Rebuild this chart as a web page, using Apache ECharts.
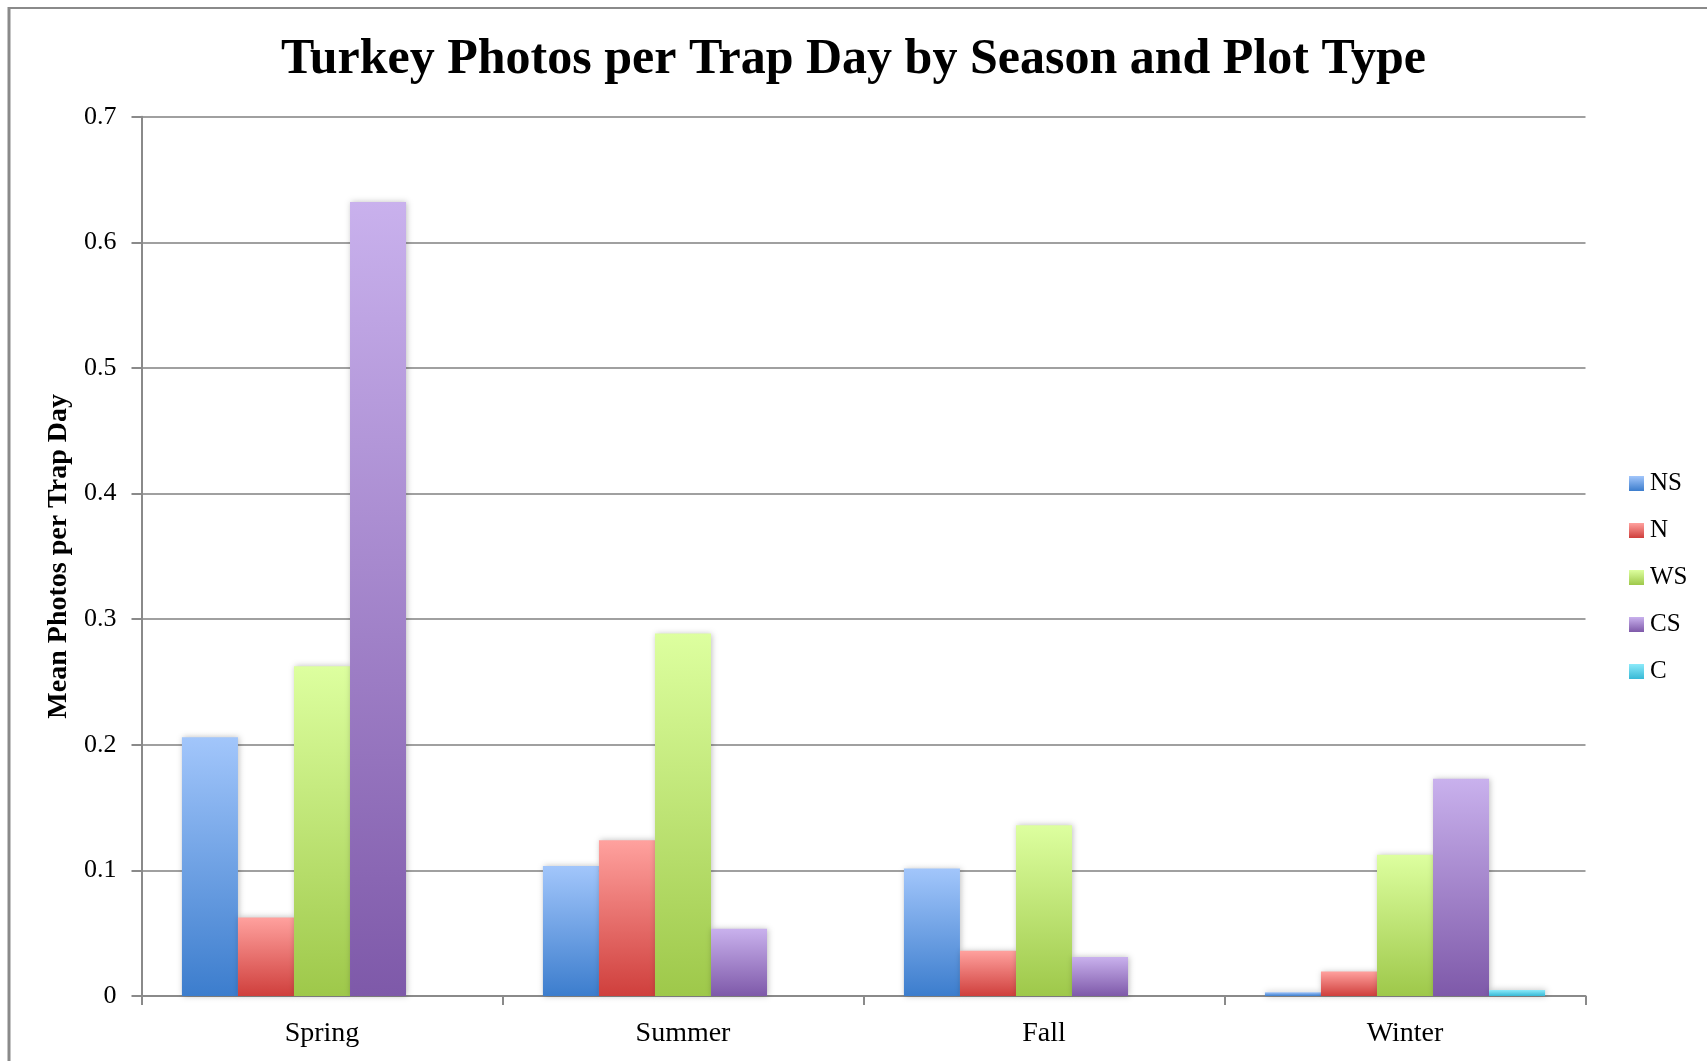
<!DOCTYPE html>
<html>
<head>
<meta charset="utf-8">
<title>Turkey Photos per Trap Day</title>
<script src="https://cdn.jsdelivr.net/npm/echarts@6.0.0/dist/echarts.min.js"></script>
<style>
  html, body { margin: 0; padding: 0; background: #fff; }
  #chart { width: 1707px; height: 1061px; }
</style>
</head>
<body>
<div id="chart"></div>
<script>
// data
const seasons = ['Spring', 'Summer', 'Fall', 'Winter']
const plotTypes = ['NS', 'N', 'WS', 'CS', 'C']
const nsValues = [0.206, 0.1035, 0.1015, 0.003]
const nValues = [0.0625, 0.124, 0.036, 0.0195]
const wsValues = [0.2625, 0.2885, 0.136, 0.1125]
const csValues = [0.632, 0.0535, 0.031, 0.173]
const cValues = [0, 0, 0, 0.0048]
const yTicks = [0, 0.1, 0.2, 0.3, 0.4, 0.5, 0.6, 0.7]

// gradient colors: light at top, dark at bottom
const barColors = {
  NS: ['#a2c6fb', '#3c7dcd'],
  N: ['#ffa19e', '#cf3f3c'],
  WS: ['#ddff9f', '#9ec84a'],
  CS: ['#c9b1ed', '#7e59a9'],
  C: ['#8ceafa', '#37b9d6']
}

const font = '"Liberation Serif", "DejaVu Serif", serif'

const chart = echarts.init(document.getElementById('chart'))

const valuesByType = { NS: nsValues, N: nValues, WS: wsValues, CS: csValues, C: cValues }

const series = plotTypes.map(name => ({
  name: name,
  type: 'bar',
  data: valuesByType[name],
  barGap: '0%',
  barCategoryGap: '22.4%',
  itemStyle: {
    color: new echarts.graphic.LinearGradient(0, 0, 0, 1, [
      { offset: 0, color: barColors[name][0] },
      { offset: 1, color: barColors[name][1] }
    ]),
    shadowBlur: 6,
    shadowColor: 'rgba(0, 0, 0, 0.25)',
    shadowOffsetX: 1
  }
}))

const option = {
  backgroundColor: '#fff',
  animation: false,
  title: {
    text: 'Turkey Photos per Trap Day by Season and Plot Type',
    left: 'center',
    top: 30,
    textStyle: {
      fontFamily: font,
      fontSize: 50,
      fontWeight: 'bold',
      color: '#000'
    }
  },
  legend: {
    data: plotTypes,
    orient: 'vertical',
    left: 1624,
    top: 466,
    itemWidth: 15,
    itemHeight: 15,
    itemGap: 22,
    icon: 'rect',
    textStyle: {
      fontFamily: font,
      fontSize: 25,
      lineHeight: 25,
      color: '#000',
      padding: [0, 0, 0, 1]
    }
  },
  grid: {
    left: 141.5,
    right: 121.5,
    top: 116.7,
    bottom: 65,
    containLabel: false
  },
  xAxis: {
    type: 'category',
    data: seasons,
    axisLine: { lineStyle: { color: '#8a8a8a', width: 2 } },
    axisTick: {
      show: true,
      alignWithLabel: false,
      length: 9,
      lineStyle: { color: '#8a8a8a', width: 2 }
    },
    axisLabel: {
      fontFamily: font,
      fontSize: 28,
      color: '#000',
      margin: 24
    },
    splitLine: { show: false }
  },
  yAxis: {
    type: 'value',
    min: yTicks[0],
    max: yTicks[yTicks.length - 1],
    interval: 0.1,
    name: 'Mean Photos per Trap Day',
    nameLocation: 'middle',
    nameGap: 67,
    nameRotate: 90,
    nameTextStyle: {
      fontFamily: font,
      fontSize: 28,
      fontWeight: 'bold',
      color: '#000'
    },
    axisLine: { show: true, lineStyle: { color: '#8a8a8a', width: 2 } },
    axisTick: {
      show: true,
      length: 10,
      lineStyle: { color: '#8a8a8a', width: 2 }
    },
    axisLabel: {
      fontFamily: font,
      fontSize: 26,
      color: '#000',
      margin: 25,
      formatter: v => String(Math.round(v * 10) / 10)
    },
    splitLine: {
      lineStyle: { color: '#a0a0a0', width: 2 }
    }
  },
  graphic: [
    {
      type: 'line',
      shape: { x1: 9, y1: 8, x2: 1707, y2: 8 },
      style: { stroke: '#8a8a8a', lineWidth: 2 }
    },
    {
      type: 'line',
      shape: { x1: 9, y1: 7, x2: 9, y2: 1061 },
      style: { stroke: '#8a8a8a', lineWidth: 3 }
    }
  ],
  series: series
}

chart.setOption(option)
</script>
</body>
</html>
